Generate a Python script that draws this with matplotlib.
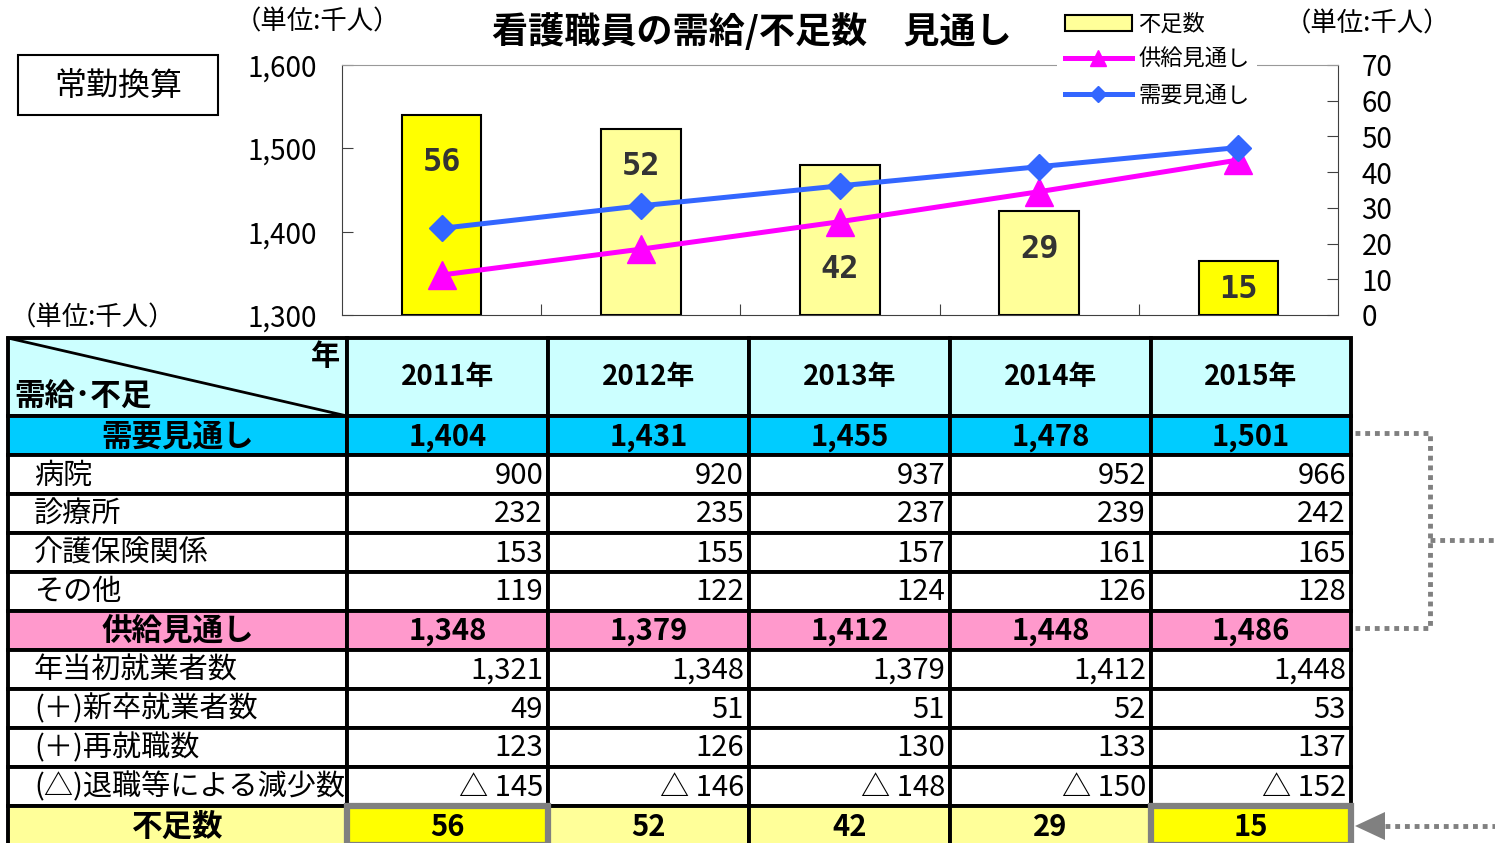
import numpy as np
import matplotlib.pyplot as plt
from matplotlib.patches import Rectangle, Polygon
from matplotlib.lines import Line2D

plt.rcParams['font.family'] = ['Noto Sans CJK JP', 'DejaVu Sans']
NUM = ['Liberation Sans Narrow', 'Noto Sans CJK JP', 'DejaVu Sans']

# data (unit: thousand persons)
years = ['2011年', '2012年', '2013年', '2014年', '2015年']
demand = [1404, 1431, 1455, 1478, 1501]
supply = [1348, 1379, 1412, 1448, 1486]
shortage = [56, 52, 42, 29, 15]
hospital = [900, 920, 937, 952, 966]
clinic = [232, 235, 237, 239, 242]
care = [153, 155, 157, 161, 165]
other = [119, 122, 124, 126, 128]
start_emp = [1321, 1348, 1379, 1412, 1448]
new_grad = [49, 51, 51, 52, 53]
reemploy = [123, 126, 130, 133, 137]
retire = [145, 146, 148, 150, 152]

row_labels = ['需要見通し', '病院', '診療所', '介護保険関係', 'その他', '供給見通し',
              '年当初就業者数', '(＋)新卒就業者数', '(＋)再就職数',
              '(△)退職等による減少数', '不足数']
row_values = [demand, hospital, clinic, care, other, supply,
              start_emp, new_grad, reemploy, retire, shortage]

bright = [0, 4]   # highlighted years
label_y = [42.8, 41.7, 12.6, 18.2, 7.0]   # where bar labels sit (right axis units)

YEL, LYEL = '#FFFF00', '#FFFF99'
MAG, BLUE = '#FF00FF', '#3366FF'
GRAY = '#808080'

W, H = 1495, 843
fig = plt.figure(figsize=(W / 100, H / 100), dpi=100)


def fx(px):
    return px / W


def fy(py):
    return 1 - py / H


# ---- table / decorations layer (pixel coords) ----
tab = fig.add_axes([0, 0, 1, 1])
tab.set_xlim(0, W)
tab.set_ylim(H, 0)
tab.axis('off')
tab.set_zorder(-1)

# ---- chart ----
ax = fig.add_axes([fx(342), fy(315), fx(1338) - fx(342), fy(65) - fy(315)])
ax2 = ax.twinx()
ax.set_zorder(ax2.get_zorder() + 1)
ax.patch.set_visible(False)

x = np.arange(len(years))
bar_cols = [YEL if i in bright else LYEL for i in x]
ax2.bar(x, shortage, width=0.4, color=bar_cols, edgecolor='black', linewidth=1.5)
for i, v in enumerate(shortage):
    ax2.text(i, label_y[i], str(v), ha='center', va='center', fontsize=23,
             fontweight='bold', color='#333333', family='DejaVu Sans Mono')
ax2.set_ylim(0, 70)
ax2.set_yticks(range(0, 80, 10))

ax.plot(x, supply, color=MAG, lw=3.6, marker='^', ms=20)
ax.plot(x, demand, color=BLUE, lw=3.6, marker='D', ms=13)
ax.set_xlim(-0.5, 4.5)
ax.set_ylim(1300, 1600)
ax.set_yticks([1300, 1400, 1500, 1600])
ax.set_yticklabels([f'{t:,}' for t in [1300, 1400, 1500, 1600]])
ax.set_xticks([0.5, 1.5, 2.5, 3.5])
ax.tick_params(axis='x', direction='in', length=8, labelbottom=False, color='#404040')
ax.tick_params(axis='y', direction='in', length=8, pad=18, labelsize=20, color='#404040')
ax2.tick_params(axis='y', direction='in', length=8, pad=17, labelsize=20, color='#404040')

ax.spines['right'].set_visible(False)
for s in ['left', 'bottom']:
    ax.spines[s].set_color('#404040')
ax.spines['top'].set_color('#999999')
for s in ['left', 'top', 'bottom']:
    ax2.spines[s].set_visible(False)
ax2.spines['right'].set_color('#404040')

handles = [Rectangle((0, 0), 1, 1, fc=LYEL, ec='black', lw=1.5),
           Line2D([], [], color=MAG, lw=3.6, marker='^', ms=12),
           Line2D([], [], color=BLUE, lw=3.6, marker='D', ms=8)]
fig.legend(handles, ['不足数', '供給見通し', '需要見通し'], loc='upper left',
           bbox_to_anchor=(fx(1046), fy(-6)), frameon=True, facecolor='white',
           edgecolor='none', fancybox=False, framealpha=1, fontsize=16,
           handlelength=3.0, handletextpad=0.3, labelspacing=0.55, borderpad=0.35)

fig.text(fx(752), fy(32), '看護職員の需給/不足数　見通し', ha='center', va='center',
         fontsize=26, fontweight='bold')
tab.text(317, 22, '（単位:千人）', ha='center', va='center', fontsize=19)
tab.text(1367, 24, '（単位:千人）', ha='center', va='center', fontsize=19)
tab.text(92, 318, '（単位:千人）', ha='center', va='center', fontsize=19)

tab.add_patch(Rectangle((18, 55), 200, 60, fill=False, ec='black', lw=1.5))
tab.text(118, 87, '常勤換算', ha='center', va='center', fontsize=23)

# ---- table ----
col_edges = [8, 347, 548, 749, 950, 1151, 1351]
top, head_h, row_h = 338, 78, 39
LW = 2.8

tab.add_patch(Rectangle((col_edges[0], top), col_edges[1] - col_edges[0], head_h,
                        fc='#CCFFFF', ec='black', lw=LW))
tab.plot([col_edges[0], col_edges[1]], [top, top + head_h], color='black', lw=2)
tab.text(325, 356, '年', ha='center', va='center', fontsize=21, fontweight='bold')
tab.text(14, 397, '需給･不足', ha='left', va='center', fontsize=22, fontweight='bold')
for j, yr in enumerate(years):
    x0 = col_edges[j + 1]
    tab.add_patch(Rectangle((x0, top), col_edges[j + 2] - x0, head_h,
                            fc='#CCFFFF', ec='black', lw=LW))
    tab.text((x0 + col_edges[j + 2]) / 2, top + head_h / 2, yr, ha='center',
             va='center', fontsize=20, fontweight='bold', family=NUM)

totals = {0: '#00CCFF', 5: '#FF99CC', 10: LYEL}
for r, (lab, vals) in enumerate(zip(row_labels, row_values)):
    y0 = top + head_h + r * row_h
    yc = y0 + row_h / 2 + 1
    fc = totals.get(r, 'white')
    bold = r in totals
    tab.add_patch(Rectangle((col_edges[0], y0), col_edges[1] - col_edges[0], row_h,
                            fc=fc, ec='black', lw=LW))
    if bold:
        tab.text((col_edges[0] + col_edges[1]) / 2, yc, lab, ha='center', va='center',
                 fontsize=22, fontweight='bold')
    else:
        tab.text(34, yc, lab, ha='left', va='center', fontsize=21)
    for j, v in enumerate(vals):
        x0, x1 = col_edges[j + 1], col_edges[j + 2]
        cfc, cec, clw = fc, 'black', LW
        if r == 10 and j in bright:
            cfc, cec, clw = YEL, GRAY, 4.5
        tab.add_patch(Rectangle((x0, y0), x1 - x0, row_h, fc=cfc, ec=cec, lw=clw,
                                zorder=3 if cec == GRAY else 2))
        if bold:
            tab.text((x0 + x1) / 2, yc, f'{v:,}', ha='center', va='center',
                     fontsize=21, fontweight='bold', family=NUM, zorder=4)
        else:
            s = f'△ {v:,}' if lab.startswith('(△)') else f'{v:,}'
            tab.text(x1 - 5, yc, s, ha='right', va='center', fontsize=21,
                     family=NUM, zorder=4)

# ---- dotted connectors ----
dot = dict(color=GRAY, lw=3.5, linestyle=(0, (1, 1)))
tab.plot([1355, 1430, 1430, 1355], [433, 433, 628, 628], **dot)
tab.plot([1430, 1495], [540, 540], **dot)
tab.plot([1385, 1495], [826, 826], **dot)
tab.add_patch(Polygon([(1355, 826), (1385, 812), (1385, 840)], closed=True, fc=GRAY, ec='none'))

fig.savefig('out.png', dpi=100)
